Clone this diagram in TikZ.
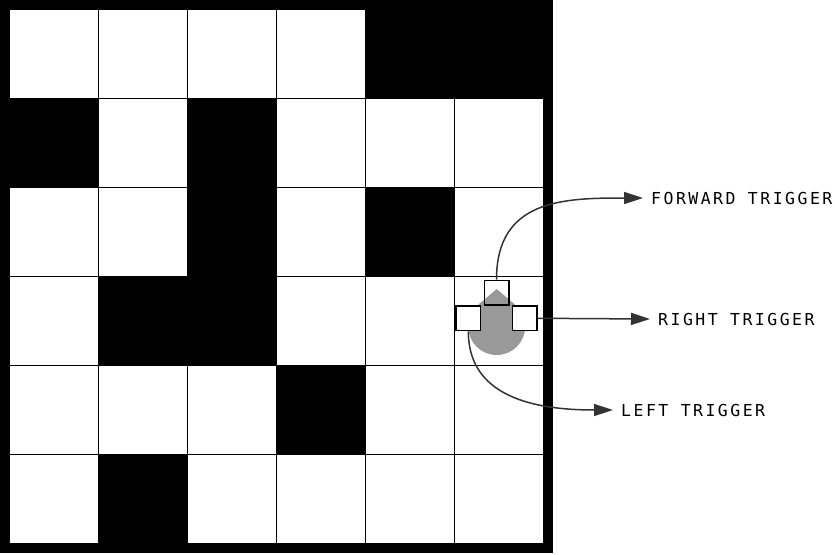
\documentclass[tikz,border=0pt]{standalone}
\usepackage{fontspec}
\usetikzlibrary{arrows.meta}
\newfontfamily\triggerfont{DejaVu Sans Mono}[LetterSpace=15]
\begin{document}
\begin{tikzpicture}[x=1pt,y=-1pt,
    sensor/.style={draw,line width=1.5pt,fill=white,minimum size=24.5pt,inner sep=0pt},
    trigger/.style={anchor=west,inner xsep=8pt,inner ysep=0pt,font=\triggerfont\fontsize{16.5}{18}\selectfont},
    wire/.style={black!80,line width=1.5pt,-{Triangle[length=19pt,width=12pt]}}]
    \useasboundingbox (0,0) rectangle (835,554);
            % grid
            \foreach \i in {1,...,5} {
                \draw[line width=1pt] ({10+\i*88.83},10) -- ({10+\i*88.83},543);
                \draw[line width=1pt] (10,{10+\i*88.83}) -- (543,{10+\i*88.83});
            }
            % walls
            \foreach \c/\r in {4/0,5/0,0/1,2/1,2/2,4/2,1/3,2/3,3/4,1/5}
                \fill ({10+\c*88.83},{10+\r*88.83}) rectangle ++(88.83,88.83);
            \draw[line width=10pt] (5,5) rectangle (548,548);
            % robot
            \fill[gray!80] (496.7,326.5) circle [radius=28.5pt];
            \fill[gray!80] (496.7,289) -- (478.9,304.2) -- (514.5,304.2) -- cycle;
            \node[sensor,fill=none] (front) at (496.5,292.5) {};
            \node[sensor] (leftsens) at (468.3,318.3) {};
            \node[sensor] (rightsens) at (524.8,318.3) {};
            % labels
            \node[trigger] (fwdlabel) at (643,198) {FORWARD TRIGGER};
            \node[trigger] (rightlabel) at (650,319) {RIGHT TRIGGER};
            \node[trigger] (leftlabel) at (613,410) {LEFT TRIGGER};
            \draw[wire] (front.north) .. controls +(0,-80) and +(-80,0) .. (fwdlabel.west);
            \draw[wire] (rightsens.east) -- (rightlabel.west);
            \draw[wire] (leftsens.south) .. controls +(0,65) and +(-80,0) .. (leftlabel.west);
            %\node at (496.5,325.5) {robot};
        \end{tikzpicture}
\end{document}
